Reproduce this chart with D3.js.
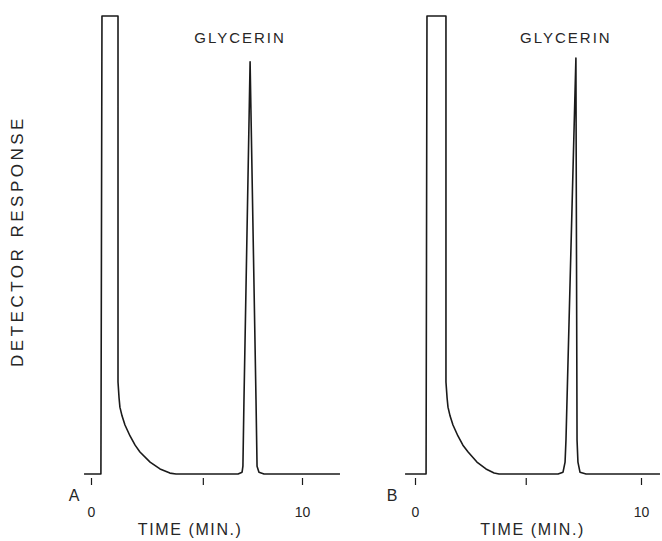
<!DOCTYPE html>
<html><head><meta charset="utf-8">
<script src="https://cdn.jsdelivr.net/npm/d3@7"></script>
<style>body{margin:0;background:#fff}svg{display:block}</style>
</head><body>
<svg id="c" width="662" height="541"></svg>
<script>
// Chromatogram A (time in minutes, detector response in % of full scale)
const timeA = [-0.33, 0.47, 0.52, 1.28, 1.28, 1.33, 1.37, 1.47, 1.61, 1.85, 2.09, 2.32, 2.80, 3.27, 3.74, 4.03,
               6.97, 7.16, 7.20, 7.25, 7.54, 7.82, 7.87, 7.96, 8.20, 11.80];
const respA = [0, 0, 100, 100, 20.1, 16.6, 14.6, 12.7, 10.7, 8.3, 6.3, 4.8, 2.6, 1.1, 0.2, 0,
               0, 0.4, 1.7, 16.2, 90.0, 16.2, 1.7, 0.4, 0, 0];
// Chromatogram B
const timeB = [-0.44, 0.49, 0.53, 1.37, 1.37, 1.42, 1.46, 1.55, 1.68, 1.90, 2.12, 2.35, 2.74, 3.14, 3.50, 3.72,
               6.33, 6.55, 6.64, 6.68, 7.12, 7.17, 7.21, 7.30, 7.57, 10.84];
const respB = [0, 0, 100, 100, 20.1, 16.6, 14.6, 12.7, 10.7, 8.3, 6.3, 4.8, 2.6, 1.1, 0.2, 0,
               0, 0.4, 2.6, 7.4, 90.8, 7.4, 2.6, 0.4, 0, 0];

const ticksA = [0, 5.3, 10];
const ticksB = [0, 4.9, 10];
const tickLabels = ["0", "", "10"];
const panelNames = ["A", "B"];
const peakName = "GLYCERIN";
const peakTimes = [7.54, 7.12];
const xTitle = "TIME (MIN.)";
const yTitle = "DETECTOR RESPONSE";

const svg = d3.select("#c");
svg.append("rect").attr("width", 662).attr("height", 541).attr("fill", "#fff");
const ink = "#1a1a1a";
const textInk = "#262626";
const font = "'Liberation Sans', Arial, sans-serif";

const y = d3.scaleLinear().domain([0, 100]).range([474, 16]);

const panels = [
  {name: panelNames[0], t: timeA, r: respA, ticks: ticksA, x: d3.scaleLinear().domain([0, 10]).range([91, 302]), peak: peakTimes[0], nameDx: -17, titleT: 4.7},
  {name: panelNames[1], t: timeB, r: respB, ticks: ticksB, x: d3.scaleLinear().domain([0, 10]).range([415, 641]), peak: peakTimes[1], nameDx: -23, titleT: 5.2}
];

panels.forEach(p => {
  const pts = p.t.map((t, i) => [t, p.r[i]]);
  const line = d3.line().x(d => p.x(d[0])).y(d => y(d[1])).curve(d3.curveLinear);
  svg.append("path").attr("d", line(pts)).attr("fill", "none")
    .attr("stroke", ink).attr("stroke-width", 1.6).attr("stroke-linejoin", "round");

  const axis = d3.axisBottom(p.x).tickValues(p.ticks)
    .tickFormat((d, i) => tickLabels[i]).tickSizeInner(7).tickSizeOuter(0).tickPadding(22);
  const g = svg.append("g").attr("transform", "translate(0,478)").call(axis);
  g.select(".domain").remove();
  g.selectAll(".tick line").attr("stroke", ink).attr("stroke-width", 1.2);
  g.selectAll(".tick text").attr("fill", textInk).attr("font-family", font).attr("font-size", 14);

  svg.append("text").text(p.name).attr("x", p.x(0) + p.nameDx).attr("y", 501)
    .attr("text-anchor", "middle").attr("font-family", font).attr("font-size", 16).attr("fill", textInk);

  svg.append("text").text(peakName).attr("x", p.x(p.peak) - 10).attr("y", 43)
    .attr("text-anchor", "middle").attr("font-family", font).attr("font-size", 15)
    .attr("letter-spacing", 2).attr("fill", textInk);

  svg.append("text").text(xTitle).attr("x", p.x(p.titleT)).attr("y", 535)
    .attr("text-anchor", "middle").attr("font-family", font).attr("font-size", 16)
    .attr("letter-spacing", 1.6).attr("fill", textInk);
});

svg.append("text").text(yTitle)
  .attr("transform", "translate(23,241) rotate(-90)")
  .attr("text-anchor", "middle").attr("font-family", font).attr("font-size", 17)
  .attr("letter-spacing", 3.5).attr("fill", textInk);
</script>
</body></html>
